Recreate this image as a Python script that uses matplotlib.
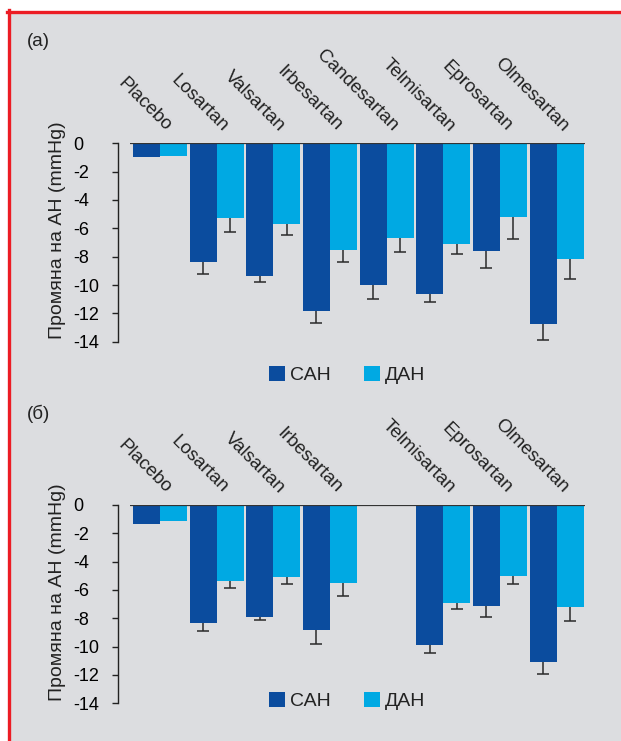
import matplotlib.pyplot as plt
import numpy as np
from matplotlib.patches import Patch, Rectangle
from matplotlib.lines import Line2D

plt.rcParams['font.family'] = ['Liberation Sans', 'DejaVu Sans']

# данни
drugs = ['Placebo', 'Losartan', 'Valsartan', 'Irbesartan', 'Candesartan',
         'Telmisartan', 'Eprosartan', 'Olmesartan']
nan = np.nan

# (a)
sah_a = [-1.0, -8.4, -9.35, -11.8, -10.0, -10.6, -7.6, -12.75]
sah_a_err = [nan, 0.85, 0.45, 0.9, 1.0, 0.6, 1.2, 1.1]
dah_a = [-0.9, -5.25, -5.7, -7.5, -6.65, -7.1, -5.2, -8.15]
dah_a_err = [nan, 1.0, 0.8, 0.9, 1.0, 0.7, 1.55, 1.4]

# (б) - без Candesartan
sah_b = [-1.35, -8.3, -7.9, -8.85, nan, -9.85, -7.1, -11.05]
sah_b_err = [nan, 0.6, 0.25, 0.95, nan, 0.6, 0.8, 0.9]
dah_b = [-1.15, -5.4, -5.05, -5.5, nan, -6.95, -5.0, -7.2]
dah_b_err = [nan, 0.45, 0.55, 0.9, nan, 0.4, 0.6, 1.0]

yticks = list(range(0, -15, -2))

dark = '#0b4c9e'
light = '#00a9e3'
bg = '#dcdde0'
red = '#ec1c24'

W, H = 621, 741
fig = plt.figure(figsize=(6.21, 7.41), dpi=100, facecolor='white')

# сив фон с червена рамка
fig.patches.append(Rectangle((10 / W, 0), 1, 1 - 13 / H, transform=fig.transFigure,
                             facecolor=bg, edgecolor='none', zorder=-2))
fig.lines.append(Line2D([7 / W, 1], [1 - 11.5 / H] * 2, transform=fig.transFigure,
                        color=red, lw=2.4, zorder=-1))
fig.lines.append(Line2D([8.5 / W] * 2, [0, 1 - 10 / H], transform=fig.transFigure,
                        color=red, lw=2.4, zorder=-1))


def panel(rect, sah, sah_err, dah, dah_err, tag, tag_y, leg_y):
    ax = fig.add_axes(rect)
    ax.set_facecolor('none')
    x = np.arange(len(drugs))
    bw = 0.476
    ax.bar(x - bw, sah, width=bw, align='edge', color=dark, zorder=3)
    ax.bar(x, dah, width=bw, align='edge', color=light, zorder=3)
    ax.errorbar(x - bw / 2, sah, yerr=sah_err, fmt='none', ecolor='#2a2a2a',
                elinewidth=1.1, capsize=4, capthick=1.1, zorder=2)
    ax.errorbar(x + bw / 2, dah, yerr=dah_err, fmt='none', ecolor='#2a2a2a',
                elinewidth=1.1, capsize=4, capthick=1.1, zorder=2)
    ax.hlines(0, -0.53, 7.5, color='#333333', lw=1.6, zorder=4)

    ax.set_xlim(-0.74, 7.5)
    ax.set_ylim(-14, 0)
    for s in ['top', 'right', 'bottom']:
        ax.spines[s].set_visible(False)
    ax.spines['left'].set_linewidth(1.0)
    ax.spines['left'].set_color('#222222')

    ax.set_yticks(yticks)
    ax.set_yticklabels([str(v) for v in yticks])
    ax.tick_params(axis='y', length=4, width=1, color='#222222', labelsize=13, pad=28)
    for lbl in ax.get_yticklabels():
        lbl.set_ha('left')

    shown = [i for i in range(len(drugs)) if not np.isnan(sah[i])]
    ax.set_xticks([i + 0.05 for i in shown])
    ax.set_xticklabels([drugs[i] for i in shown])
    ax.tick_params(axis='x', bottom=False, labelbottom=False, top=False,
                   labeltop=True, length=0, pad=6, labelsize=13.5)
    for t in ax.xaxis.get_major_ticks():
        t.label2.set(rotation=-45, ha='right', va='bottom', rotation_mode='anchor',
                     color='#222222')

    ax.set_ylabel('Промяна на АН (mmHg)', fontsize=14, color='#222222')
    ax.yaxis.set_label_coords(-0.111, 0.56)

    fig.text(27 / W, 1 - tag_y / H, tag, fontsize=13.5, va='top', ha='left', color='#222222')

    handles = [Patch(facecolor=dark), Patch(facecolor=light)]
    fig.legend(handles, ['САН', 'ДАН'], loc='center left',
               bbox_to_anchor=(269 / W, 1 - leg_y / H), ncol=2,
               frameon=False, fontsize=14, handlelength=0.82, handleheight=0.82,
               handletextpad=0.26, columnspacing=1.7, borderpad=0, borderaxespad=0,
               labelcolor='#222222')
    return ax


ax_a = panel([118 / W, 1 - 341.7 / H, 467 / W, 198.4 / H],
             sah_a, sah_a_err, dah_a, dah_a_err, '(a)', 33, 375)
ax_b = panel([118 / W, 1 - 703.3 / H, 467 / W, 198.3 / H],
             sah_b, sah_b_err, dah_b, dah_b_err, '(б)', 405, 701)

fig.savefig('out.png', dpi=100, facecolor=fig.get_facecolor())
